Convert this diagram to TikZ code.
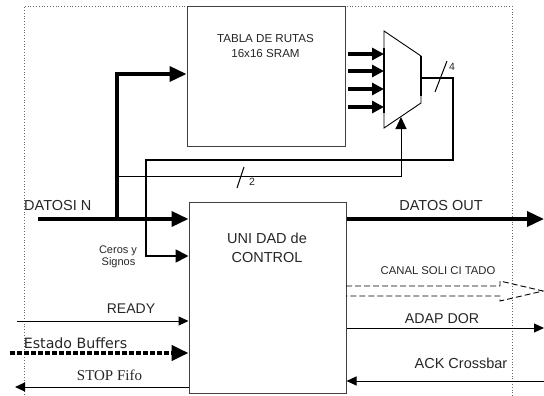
\documentclass[tikz,border=0pt]{standalone}
\usepackage{fontspec}
\setmainfont{Liberation Sans}
\newfontfamily\serifF{Liberation Serif}
\newfontfamily\dejaF{DejaVu Sans}
\usetikzlibrary{arrows.meta}
\tikzset{
  box/.style={draw=black!75, line width=1pt, inner sep=0pt, fill=none},
  frame/.style={draw=black!60, line width=0.8pt, dotted},
  thickarr/.style={line width=3.6pt, -{Triangle[length=17pt,width=15pt]}},
  muxin/.style={line width=3.6pt, -{Triangle[length=12pt,width=12pt]}},
  medarr/.style={line width=1.8pt, -{Triangle[length=13pt,width=13pt]}},
  thinarr/.style={line width=1pt, -{Triangle[length=10pt,width=9pt]}},
  thinline/.style={line width=1pt},
  lbl/.style={anchor=base, inner sep=0pt, text=black!85},
}
\newcommand{\fs}[1]{\fontsize{#1}{#1}\selectfont}
\begin{document}
\begin{tikzpicture}[x=1pt,y=-1pt]
\useasboundingbox (0,0) rectangle (544,396);
% outer dotted frame
\draw[frame] (24,400) -- (24,6) -- (512,6) -- (512,400);

% main blocks
\node[box, minimum width=158pt, minimum height=139pt] (tabla) at (266,76.5) {};
\node[lbl, font=\fs{11.6}] (tablaA) at (265.5,43) {TABLA DE RUTAS};
\node[lbl, font=\fs{11.6}] (tablaB) at (265.5,58) {16x16 SRAM};

\node[box, minimum width=157pt, minimum height=191pt] (ctrl) at (267.5,297.5) {};
\node[lbl, font=\fs{14.5}] (ctrlA) at (267,243) {UNI DAD de};
\node[lbl, font=\fs{14.5}] (ctrlB) at (267,262) {CONTROL};

% multiplexer
\coordinate (m1) at (384,31);
\coordinate (m2) at (421,56);
\coordinate (m3) at (421,103);
\coordinate (m4) at (384,128);
\draw[line width=0.9pt] (m1) -- (m2) -- (m3) -- (m4) -- cycle;
\draw[line width=2.2pt] (384,48) -- (384,113);
\draw[line width=2.6pt] (421,56) -- (421,96);

% table outputs into mux
\foreach \yy [count=\i] in {54,71,89,107} {
  \coordinate (ti\i) at (348,\yy);
  \draw[muxin] (ti\i) -- (ti\i -| m1);
}

% mux output loop back to control unit (Ceros y Signos)
\coordinate (mo) at (421,78);
\coordinate (c1) at (453,78);
\coordinate (c2) at (453,160);
\coordinate (c3) at (146,160);
\coordinate (c4) at (146,256);
\draw[medarr, line join=miter] (mo) -- (c1) -- (c2) -- (c3) -- (c4) -- (c4 -| ctrl.west);
\draw[line width=1pt] (435,92) -- (447,61);
\node[lbl, font=\fs{10.5}] (four) at (452,71) {4};
\node[lbl, font=\fs{11}, align=center] (ceros) at (118,253) {Ceros y};
\node[lbl, font=\fs{11}] (signos) at (118.5,265) {Signos};

% DATOS IN
\coordinate (din) at (38,219);
\coordinate (j1) at (117,219);
\coordinate (t1) at (117,74);
\draw[thickarr] (din) -- (din -| ctrl.west);
\draw[thickarr, line join=miter] (j1) -- (t1) -- (t1 -| tabla.west);
\node[lbl, font=\fs{14.5}, anchor=base west] (datosin) at (24,210) {DATOSI N};

% select line to mux
\coordinate (s1) at (117,176);
\coordinate (s2) at (401,176);
\coordinate (s3) at (401,117);
\draw[line width=1pt, -{Triangle[length=12pt,width=11pt]}] (s1) -- (s2) -- (s3);
\draw[line width=1pt] (237,188) -- (244,167);
\node[lbl, font=\fs{10.5}] (two) at (252,185) {2};

% DATOS OUT
\coordinate (dout) at (544,219);
\draw[thickarr] (dout -| ctrl.east) -- (dout);
\node[lbl, font=\fs{14.5}] (datosout) at (441,210.5) {DATOS OUT};

% CANAL SOLICITADO (hollow dashed arrow)
\draw[line width=0.9pt, dashed, dash pattern=on 6pt off 3pt, line join=miter]
  (346,286) -- (500,286) -- (500,281) -- (543,291) -- (500,301) -- (500,296) -- (346,296);
\node[lbl, font=\fs{11.3}] (canal) at (438,274) {CANAL SOLI CI TADO};

% ADAP DOR
\coordinate (adap) at (544,328);
\draw[thinarr] (adap -| ctrl.east) -- (adap);
\node[lbl, font=\fs{14.2}] (adaptxt) at (442,323) {ADAP DOR};

% ACK Crossbar
\coordinate (ack) at (544,381);
\draw[thinarr] (ack) -- (ack -| ctrl.east);
\node[lbl, font=\fs{14.5}] (acktxt) at (461,368) {ACK Crossbar};

% READY
\coordinate (rdy) at (17,321);
\draw[thinarr] (rdy) -- (rdy -| ctrl.west);
\node[lbl, font=\fs{14}] (rdytxt) at (131,313) {READY};

% Estado Buffers
\coordinate (est) at (10,353);
\draw[line width=4pt, dash pattern=on 4.5pt off 2.5pt, -{Triangle[length=17pt,width=15pt]}] (est) -- (est -| ctrl.west);
\node[lbl, font=\dejaF\fs{14.2}] (esttxt) at (75.5,348) {Estado Buffers};

% STOP Fifo
\coordinate (stop) at (15,387);
\draw[thinarr] (stop -| ctrl.west) -- (stop);
\node[lbl, font=\serifF\fs{15}] (stoptxt) at (109.5,380) {STOP Fifo};
\end{tikzpicture}
\end{document}
